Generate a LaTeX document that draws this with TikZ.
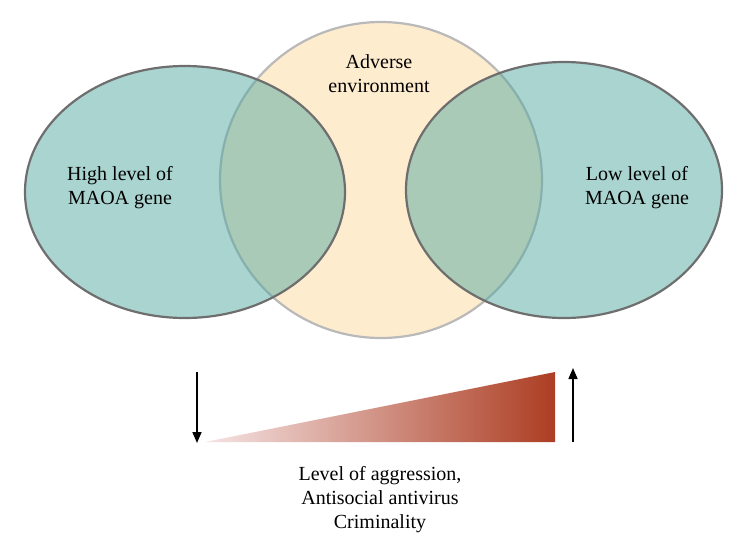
\documentclass[tikz,border=0pt]{standalone}
\usepackage{fontspec}
\setmainfont{Liberation Serif}
\usetikzlibrary{shapes.geometric,arrows.meta}
\definecolor{tealfill}{RGB}{85,169,161}
\definecolor{yellowfill}{RGB}{253,236,206}
\definecolor{darkedge}{RGB}{110,110,110}
\definecolor{lightedge}{RGB}{185,185,185}
\definecolor{redend}{RGB}{172,62,35}
\definecolor{pinkend}{RGB}{245,228,228}
\tikzset{
  geneell/.style={ellipse,draw=darkedge,line width=2.2pt,fill=tealfill,fill opacity=0.5,draw opacity=1,inner sep=0pt},
  envell/.style={ellipse,draw=lightedge,line width=2.2pt,fill=yellowfill,inner sep=0pt},
  lbl/.style={align=center,font=\fontsize{20}{24}\selectfont,text=black,inner sep=0pt},
  varrow/.style={-{Triangle[length=11pt,width=9pt]},line width=1.6pt,black}
}
\begin{document}
\begin{tikzpicture}[x=1pt,y=-1pt]
\useasboundingbox (0,0) rectangle (749,550);
\node[envell,minimum width=322,minimum height=316] (env) at (381,180) {};
\node[geneell,minimum width=320,minimum height=252] (high) at (185,192) {};
\node[geneell,minimum width=316,minimum height=256] (low) at (564,190) {};
\node[lbl] (envtext) at (379,74) {Adverse\\environment};
\node[lbl] (hightext) at (120,188) {High level of\\MAOA gene};
\node[lbl] (lowtext) at (637,188) {Low level of\\MAOA gene};
\shade[left color=pinkend,right color=redend] (205,442) -- (555,372) -- (555,442) -- cycle;
\coordinate (dtop) at (197,372);
\coordinate (dbot) at (197,443);
\coordinate (ubot) at (573,442);
\coordinate (utop) at (573,368);
\draw[varrow] (dtop) -- (dbot);
\draw[varrow] (ubot) -- (utop);
\node[lbl] (bottomtext) at (380,500) {Level of aggression,\\Antisocial antivirus\\Criminality};
\end{tikzpicture}
\end{document}
